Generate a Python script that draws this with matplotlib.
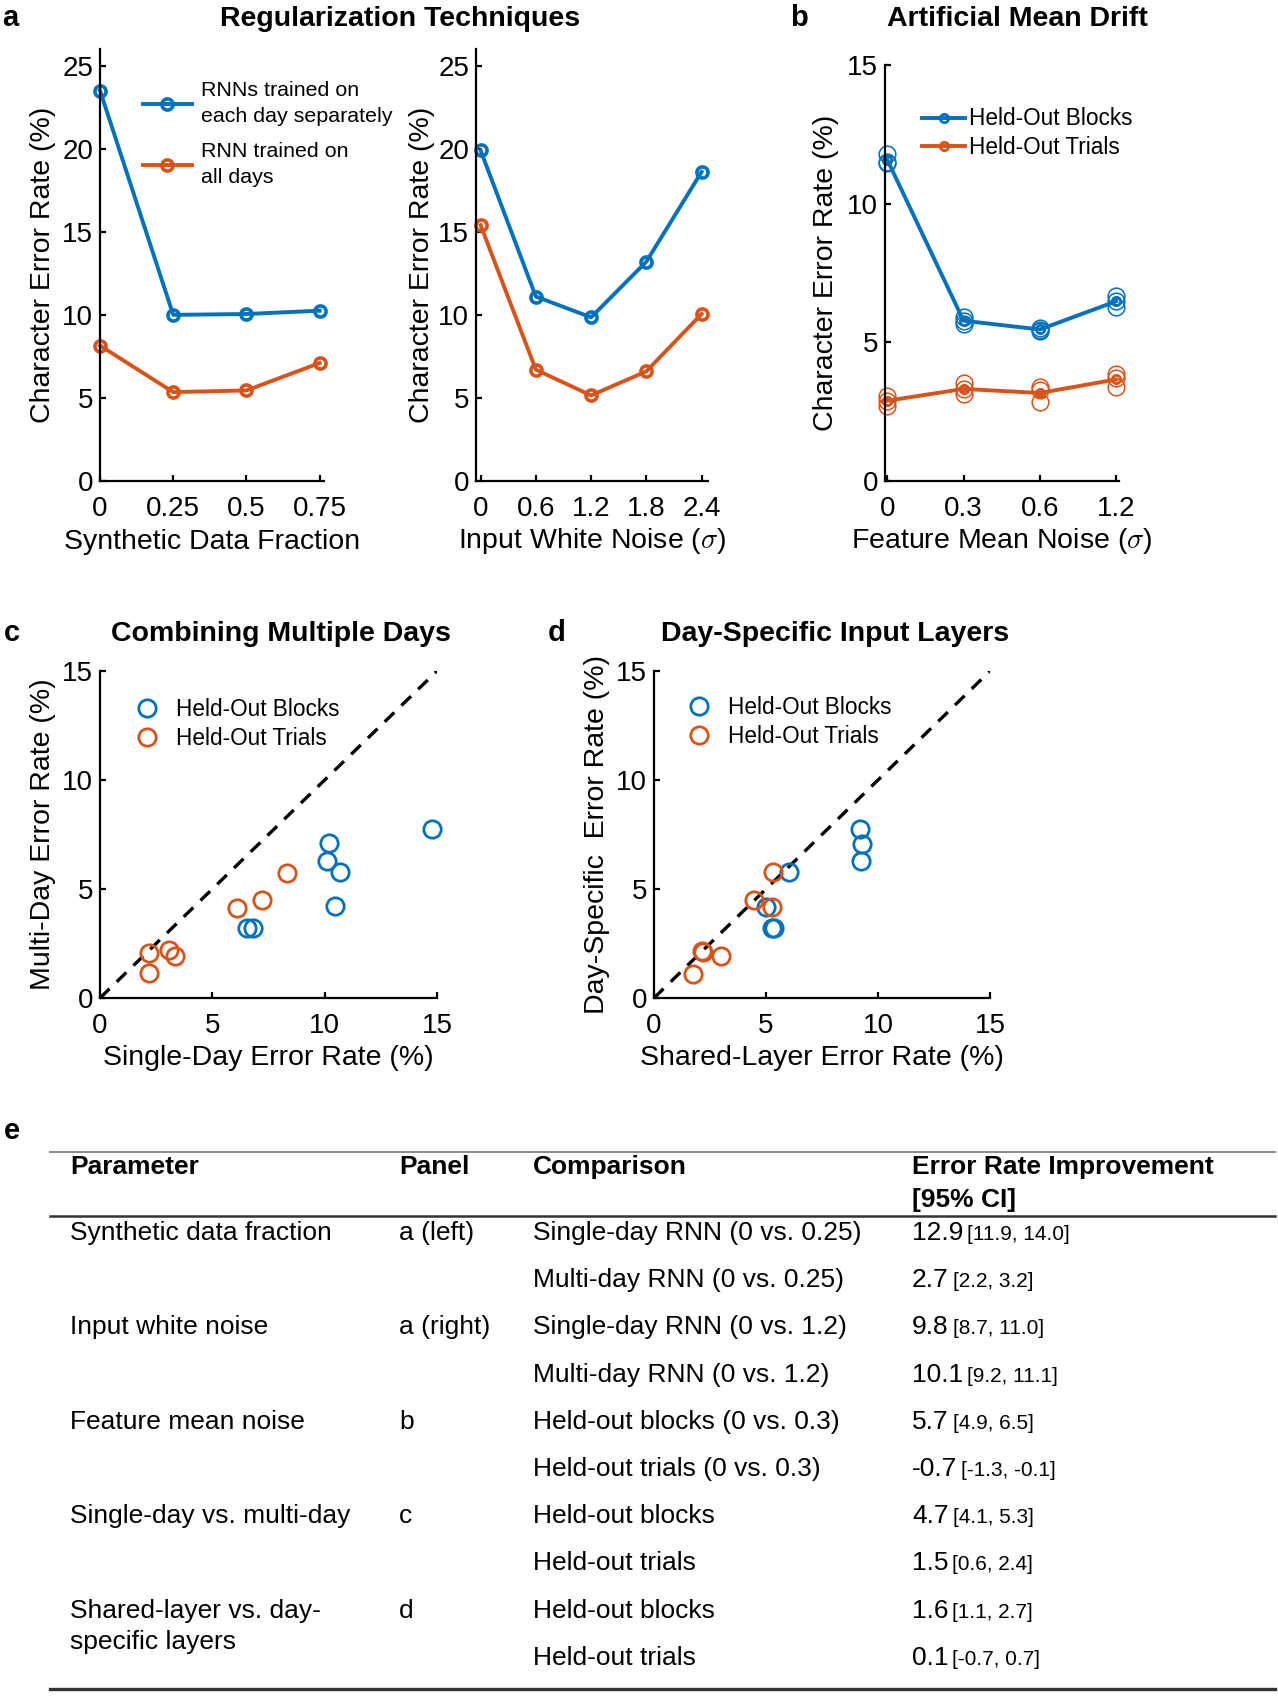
import matplotlib
matplotlib.use("Agg")
import matplotlib.pyplot as plt
import numpy as np

plt.rcParams.update({
    "font.family": ["Liberation Sans", "DejaVu Sans"],
    "mathtext.fontset": "cm",
    "axes.linewidth": 1.6,
    "xtick.direction": "in",
    "ytick.direction": "in",
    "xtick.major.width": 1.6,
    "ytick.major.width": 1.6,
    "xtick.major.size": 4,
    "ytick.major.size": 4,
    "xtick.labelsize": 20,
    "ytick.labelsize": 20,
    "axes.labelsize": 20.5,
})

BLUE = "#0072BD"
ORANGE = "#D95319"

# ── Panel a: regularization ───────────────────────────────────────────────── #
syn_frac     = [0, 0.25, 0.5, 0.75]
syn_single   = [23.5, 10.0, 10.05, 10.25]
syn_multi    = [8.15, 5.35, 5.45, 7.1]

noise_sd     = [0, 0.6, 1.2, 1.8, 2.4]
noise_single = [19.9, 11.1, 9.85, 13.2, 18.6]
noise_multi  = [15.4, 6.7, 5.15, 6.6, 10.05]

# ── Panel b: artificial mean drift (3 repeats per level) ─────────────────── #
drift_levels = ["0", "0.3", "0.6", "1.2"]
drift_blocks = [[11.8, 11.5, 11.45], [5.9, 5.78, 5.66], [5.52, 5.42, 5.45], [6.68, 6.48, 6.27]]
drift_trials = [[3.08, 2.88, 2.72], [3.52, 3.32, 3.12], [3.4, 3.27, 2.85], [3.86, 3.72, 3.4]]

# ── Panel c: single-day vs multi-day ─────────────────────────────────────── #
c_blocks_x = [14.78, 10.18, 10.1, 10.7, 10.48, 6.54, 6.83]
c_blocks_y = [7.73, 7.12, 6.28, 5.79, 4.21, 3.22, 3.22]
c_trials_x = [8.32, 7.2, 6.12, 3.05, 3.34, 2.18, 2.18]
c_trials_y = [5.74, 4.49, 4.13, 2.19, 1.91, 2.07, 1.15]

# ── Panel d: shared-layer vs day-specific ────────────────────────────────── #
d_blocks_x = [9.21, 9.29, 9.26, 6.02, 4.98, 5.35, 5.27]
d_blocks_y = [7.76, 7.07, 6.30, 5.79, 4.18, 3.23, 3.23]
d_trials_x = [5.30, 4.46, 5.27, 2.15, 2.2, 2.97, 1.74]
d_trials_y = [5.76, 4.50, 4.18, 2.15, 2.1, 1.92, 1.12]

# ── Panel e: table ───────────────────────────────────────────────────────── #
tbl_params = ["Synthetic data fraction", "", "Input white noise", "",
              "Feature mean noise", "", "Single-day vs. multi-day", "",
              "Shared-layer vs. day-\nspecific layers", ""]
tbl_panels = ["a (left)", "", "a (right)", "", "b", "", "c", "", "d", ""]
tbl_comparisons = ["Single-day RNN (0 vs. 0.25)", "Multi-day RNN (0 vs. 0.25)",
                   "Single-day RNN (0 vs. 1.2)", "Multi-day RNN (0 vs. 1.2)",
                   "Held-out blocks (0 vs. 0.3)", "Held-out trials (0 vs. 0.3)",
                   "Held-out blocks", "Held-out trials",
                   "Held-out blocks", "Held-out trials"]
tbl_improvement = ["12.9", "2.7", "9.8", "10.1", "5.7", "-0.7", "4.7", "1.5", "1.6", "0.1"]
tbl_ci_low  = ["11.9", "2.2", "8.7", "9.2", "4.9", "-1.3", "4.1", "0.6", "1.1", "-0.7"]
tbl_ci_high = ["14.0", "3.2", "11.0", "11.1", "6.5", "-0.1", "5.3", "2.4", "2.7", "0.7"]
tbl_headers = ["Parameter", "Panel", "Comparison", "Error Rate Improvement\n[95% CI]"]

W, H = 1278, 1696
fig = plt.figure(figsize=(W / 100, H / 100), dpi=100)


def px_axes(x0, x1, ytop, ybot):
    return fig.add_axes([x0 / W, 1 - ybot / H, (x1 - x0) / W, (ybot - ytop) / H])


def style(ax):
    for s in ("top", "right"):
        ax.spines[s].set_visible(False)
    ax.tick_params(axis="x", pad=11)
    ax.tick_params(axis="y", pad=5)


def legend(ax, anchor, fs, hl, htp, ls, lsp=None):
    leg = ax.legend(loc="upper left", bbox_to_anchor=anchor, frameon=False,
                    fontsize=fs, handlelength=hl, handletextpad=htp,
                    labelspacing=ls, borderpad=0, borderaxespad=0)
    if lsp:
        for t in leg.get_texts():
            t.set_linespacing(lsp)
    return leg


# table canvas (pixel coordinates)
tab = fig.add_axes([0, 0, 1, 1])
tab.set_xlim(0, W)
tab.set_ylim(H, 0)
tab.axis("off")

line_kw = dict(marker="o", ms=8, mfc="none", mew=2.6, lw=2.8)

# a-left
ax = px_axes(100, 324, 49, 481)
style(ax)
ax.plot(syn_frac, syn_single, color=BLUE, label="RNNs trained on\neach day separately",
        clip_on=False, **line_kw)
ax.plot(syn_frac, syn_multi, color=ORANGE, label="RNN trained on\nall days",
        clip_on=False, **line_kw)
ax.set_xlim(0, 0.765)
ax.set_ylim(0, 26)
ax.set_xticks(syn_frac)
ax.set_xticklabels(["0", "0.25", "0.5", "0.75"])
ax.set_yticks([0, 5, 10, 15, 20, 25])
ax.set_xlabel("Synthetic Data Fraction", labelpad=5)
ax.set_ylabel("Character Error Rate (%)", labelpad=4)
legend(ax, (0.19, 0.925), 15.4, 2.3, 0.45, 0.75, lsp=1.45)

# a-right
ax = px_axes(476, 708, 49, 481)
style(ax)
ax.plot(noise_sd, noise_single, color=BLUE, clip_on=False, **line_kw)
ax.plot(noise_sd, noise_multi, color=ORANGE, clip_on=False, **line_kw)
ax.set_xlim(-0.05, 2.47)
ax.set_ylim(0, 26)
ax.set_xticks(noise_sd)
ax.set_xticklabels(["0", "0.6", "1.2", "1.8", "2.4"])
ax.set_yticks([0, 5, 10, 15, 20, 25])
ax.set_xlabel(r"Input White Noise ($\sigma$)", labelpad=3)
ax.set_ylabel("Character Error Rate (%)", labelpad=2)

# b
ax = px_axes(885, 1119, 65, 481)
style(ax)
pos = np.arange(len(drift_levels))
for vals, col, lab in [(drift_blocks, BLUE, "Held-Out Blocks"),
                       (drift_trials, ORANGE, "Held-Out Trials")]:
    means = [np.mean(v) for v in vals]
    ax.plot(pos, means, color=col, lw=2.8, marker="o", ms=6, mfc="none", mew=2.0,
            label=lab, clip_on=False)
    for p, v in zip(pos, vals):
        ax.plot([p] * len(v), v, ls="none", marker="o", ms=12, mfc="none",
                mec=col, mew=1.1, clip_on=False)
ax.set_xlim(-0.03, 3.04)
ax.set_ylim(0, 15)
ax.set_xticks(pos)
ax.set_xticklabels(drift_levels)
ax.set_yticks([0, 5, 10, 15])
ax.set_xlabel(r"Feature Mean Noise ($\sigma$)", labelpad=3)
ax.set_ylabel("Character Error Rate (%)", labelpad=6)
legend(ax, (0.16, 0.898), 16.3, 1.9, 0.15, 0.25)

# c and d
scatter_kw = dict(ls="none", marker="o", ms=12.5, mfc="none", mew=2.0, clip_on=False)
for (x0, x1), bx, by, tx, ty, xl, yl, leg_x, leg_y in [
        ((100, 437), c_blocks_x, c_blocks_y, c_trials_x, c_trials_y,
         "Single-Day Error Rate (%)", "Multi-Day Error Rate (%)", 0.105, 0.917),
        ((654, 990), d_blocks_x, d_blocks_y, d_trials_x, d_trials_y,
         "Shared-Layer Error Rate (%)", "Day-Specific  Error Rate (%)", 0.1, 0.923)]:
    ax = px_axes(x0, x1, 671, 998)
    style(ax)
    ax.axline((0, 0), slope=1, color="black", ls=(0, (4, 3)), lw=2.4)
    ax.plot(bx, by, mec=BLUE, label="Held-Out Blocks", **scatter_kw)
    ax.plot(tx, ty, mec=ORANGE, label="Held-Out Trials", **scatter_kw)
    ax.set_xlim(0, 15)
    ax.set_ylim(0, 15)
    ax.set_xticks([0, 5, 10, 15])
    ax.set_yticks([0, 5, 10, 15])
    ax.set_xlabel(xl, labelpad=4)
    ax.set_ylabel(yl, labelpad=4)
    legend(ax, (leg_x, leg_y), 16.3, 1.0, 0.8, 0.25)

# titles and panel letters
title_kw = dict(fontsize=20.5, fontweight="bold", ha="center", va="center")
fig.text(400 / W, 1 - 19 / H, "Regularization Techniques", **title_kw)
fig.text(1017 / W, 1 - 19 / H, "Artificial Mean Drift", **title_kw)
fig.text(281 / W, 1 - 634 / H, "Combining Multiple Days", **title_kw)
fig.text(835 / W, 1 - 634 / H, "Day-Specific Input Layers", **title_kw)
letter_kw = dict(fontsize=21, fontweight="bold", ha="left", va="center")
for lx, ly, lt in [(2, 18, "a"), (790, 18, "b"), (4, 633, "c"), (548, 633, "d"), (4, 1131, "e")]:
    fig.text(lx / W, 1 - ly / H, lt, **letter_kw)


def cell(x, y, s, gap, **kw):
    # one text per line, each on its own baseline
    for k, part in enumerate(s.split("\n")):
        tab.text(x, y + k * gap, part, ha="left", va="baseline", **kw)


# table
cols_x = [70, 399, 533, 912]
FS = 19
tab.plot([50, 1275], [1152, 1152], color="#8a8a8a", lw=1.4)
tab.plot([50, 1275], [1216, 1216], color="#333333", lw=1.8)
tab.plot([50, 1275], [1689, 1689], color="#333333", lw=2.4)
for cx, h in zip(cols_x, tbl_headers):
    cell(cx, 1174, h, 33, fontsize=FS, fontweight="bold")

row_y = [1240 + 47.2 * i for i in range(len(tbl_comparisons))]
mains = []
for i, y in enumerate(row_y):
    cell(cols_x[0], y, tbl_params[i], 31, fontsize=FS)
    cell(cols_x[1], y, tbl_panels[i], 31, fontsize=FS)
    cell(cols_x[2], y, tbl_comparisons[i], 31, fontsize=FS)
    mains.append(tab.text(cols_x[3], y, tbl_improvement[i], fontsize=FS,
                          ha="left", va="baseline"))

fig.canvas.draw()
renderer = fig.canvas.get_renderer()
for i, y in enumerate(row_y):
    x_end = mains[i].get_window_extent(renderer).x1
    tab.text(x_end + 4, y, f"[{tbl_ci_low[i]}, {tbl_ci_high[i]}]", fontsize=15,
             ha="left", va="baseline")

fig.savefig("out.png", dpi=100)
